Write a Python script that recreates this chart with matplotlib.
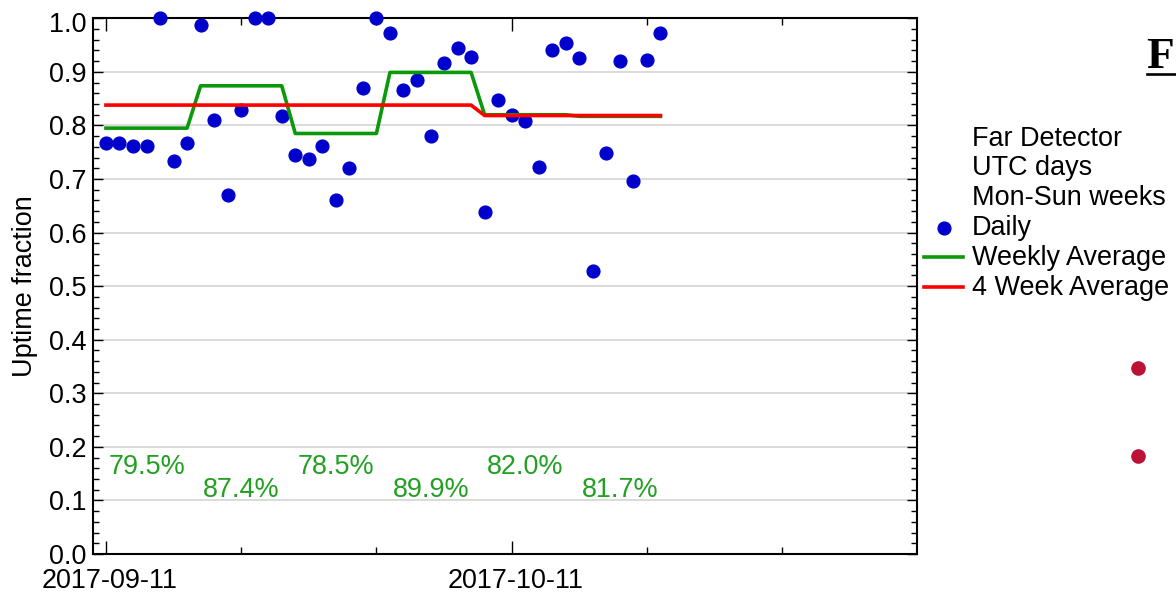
import numpy as np
import matplotlib
matplotlib.use("Agg")
import matplotlib.pyplot as plt
import matplotlib.dates as mdates
import matplotlib.transforms as mtransforms
from matplotlib.lines import Line2D
from matplotlib.ticker import MultipleLocator, FixedLocator
import datetime as dt

plt.rcParams['font.family'] = ['Liberation Sans', 'DejaVu Sans']

# ---------------- data ----------------
start_date = dt.date(2017, 9, 11)
daily_uptime = [0.768, 0.768, 0.762, 0.762, 1.000, 0.734, 0.767,
                0.987, 0.810, 0.671, 0.828, 1.000, 1.000, 0.818,
                0.744, 0.738, 0.762, 0.660, 0.720, 0.870, 1.000,
                0.973, 0.867, 0.884, 0.780, 0.917, 0.945, 0.928,
                0.638, 0.848, 0.819, 0.809, 0.723, 0.941, 0.953,
                0.926, 0.529, 0.749, 0.921, 0.696, 0.923, 0.973]
weekly_avg = [0.795, 0.874, 0.785, 0.899, 0.820, 0.817]
four_week_avg = [0.838, 0.8185]
legend_text = ["Far Detector", "UTC days", "Mon-Sun weeks"]
series_labels = ["Daily", "Weekly Average", "4 Week Average"]
y_label = "Uptime fraction"

# ---------------- figure ----------------
W, H = 1176, 595
fig = plt.figure(figsize=(W / 100, H / 100), dpi=100)
ax = fig.add_axes([92.7 / W, 1 - 554 / H, (916.7 - 92.7) / W, (554 - 18.3) / H])

t0 = mdates.date2num(dt.datetime(start_date.year, start_date.month, start_date.day))
n = len(daily_uptime)
days = t0 + np.arange(n)
weekly_line = np.repeat(weekly_avg, 7)[:n]
four_line = np.concatenate([np.repeat(four_week_avg[0], 28),
                            np.repeat(four_week_avg[1], n - 28)])

FS = 19.44
BLUE = '#0000cc'
GREEN = '#0a990a'
TGREEN = '#22a022'
RED = '#ff0000'

ax.grid(axis='y', color='#d8d8d8', lw=1.3, zorder=0)
ax.set_axisbelow(True)

ax.plot(days, daily_uptime, 'o', color=BLUE, ms=9.2, mec=BLUE, zorder=3, clip_on=False)
ax.plot(days, weekly_line, '-', color=GREEN, lw=2.6, zorder=4)
ax.plot(days, four_line, '-', color=RED, lw=2.6, zorder=5)

# weekly percentage annotations
for k, v in enumerate(weekly_avg):
    yv = 0.149 if k % 2 == 0 else 0.107
    ax.text(t0 + 7 * k + 0.2, yv, f"{v * 100:.1f}%", color=TGREEN,
            fontsize=FS, va='baseline', ha='left', zorder=6)

ax.set_xlim(t0 - 0.98, t0 + 59.95)
ax.set_ylim(0, 1.0)

ax.xaxis.set_major_locator(FixedLocator([t0, t0 + 30, t0 + 60]))
ax.xaxis.set_minor_locator(FixedLocator([t0 + 10 * i for i in range(7)]))
ax.xaxis.set_major_formatter(mdates.DateFormatter('%Y-%m-%d'))
ax.yaxis.set_major_locator(MultipleLocator(0.1))
ax.yaxis.set_minor_locator(MultipleLocator(0.02))
ax.yaxis.set_major_formatter(matplotlib.ticker.FormatStrFormatter('%.1f'))

ax.tick_params(axis='both', which='both', direction='in', top=True, right=True,
               labelsize=FS, colors='black', width=1.0)
ax.tick_params(axis='x', which='major', length=9.4, pad=10.3)
ax.tick_params(axis='x', which='minor', length=5.0)
ax.tick_params(axis='y', which='major', length=7.0, pad=4.3)
ax.tick_params(axis='y', which='minor', length=4.3)

for sp in ax.spines.values():
    sp.set_linewidth(1.5)
    sp.set_color('black')

fig.canvas.draw()
offset = mtransforms.ScaledTranslation(4 / 100, 0, fig.dpi_scale_trans)
for lab in ax.get_xticklabels():
    lab.set_transform(lab.get_transform() + offset)
down = mtransforms.ScaledTranslation(0, -3.4 / 100, fig.dpi_scale_trans)
for lab in ax.get_yticklabels():
    if lab.get_text() == '1.0':
        lab.set_transform(lab.get_transform() + down)

ax.set_ylabel(y_label, fontsize=FS)
ax.yaxis.set_label_coords(-0.0668, 0.5)

# ---------------- legend (manual) ----------------
tx = 971.7 / W
baselines = [145.7, 175.4, 205.1, 234.8, 264.9, 295.0]
labels_all = legend_text + series_labels
for b, lab in zip(baselines, labels_all):
    fig.text(tx, 1 - b / H, lab, fontsize=FS, va='baseline', ha='left')
fig.add_artist(Line2D([944 / W], [1 - 228.3 / H], marker='o', ms=9.2, color=BLUE,
                      mec=BLUE, transform=fig.transFigure))
fig.add_artist(Line2D([924.3 / W, 963.3 / W], [1 - 257.3 / H] * 2, color=GREEN,
                      lw=2.6, transform=fig.transFigure))
fig.add_artist(Line2D([924.3 / W, 963.3 / W], [1 - 286.7 / H] * 2, color=RED,
                      lw=2.6, transform=fig.transFigure))

# ---------------- slide remnants on the right ----------------
fig.text(1146.5 / W, 1 - 68.3 / H, "F", fontsize=32.6, fontweight='bold',
         family=['Liberation Serif', 'DejaVu Serif'], va='baseline', ha='left')
fig.add_artist(Line2D([1147.3 / W, 1176 / W], [1 - 74 / H] * 2, color='black',
                      lw=1.9, transform=fig.transFigure))
for yb in [368.3, 455.7]:
    fig.add_artist(Line2D([1138.3 / W], [1 - yb / H], marker='o', ms=9.5,
                          color='#bb1236', mec='#bb1236', transform=fig.transFigure))

fig.savefig("out.png", dpi=100)
